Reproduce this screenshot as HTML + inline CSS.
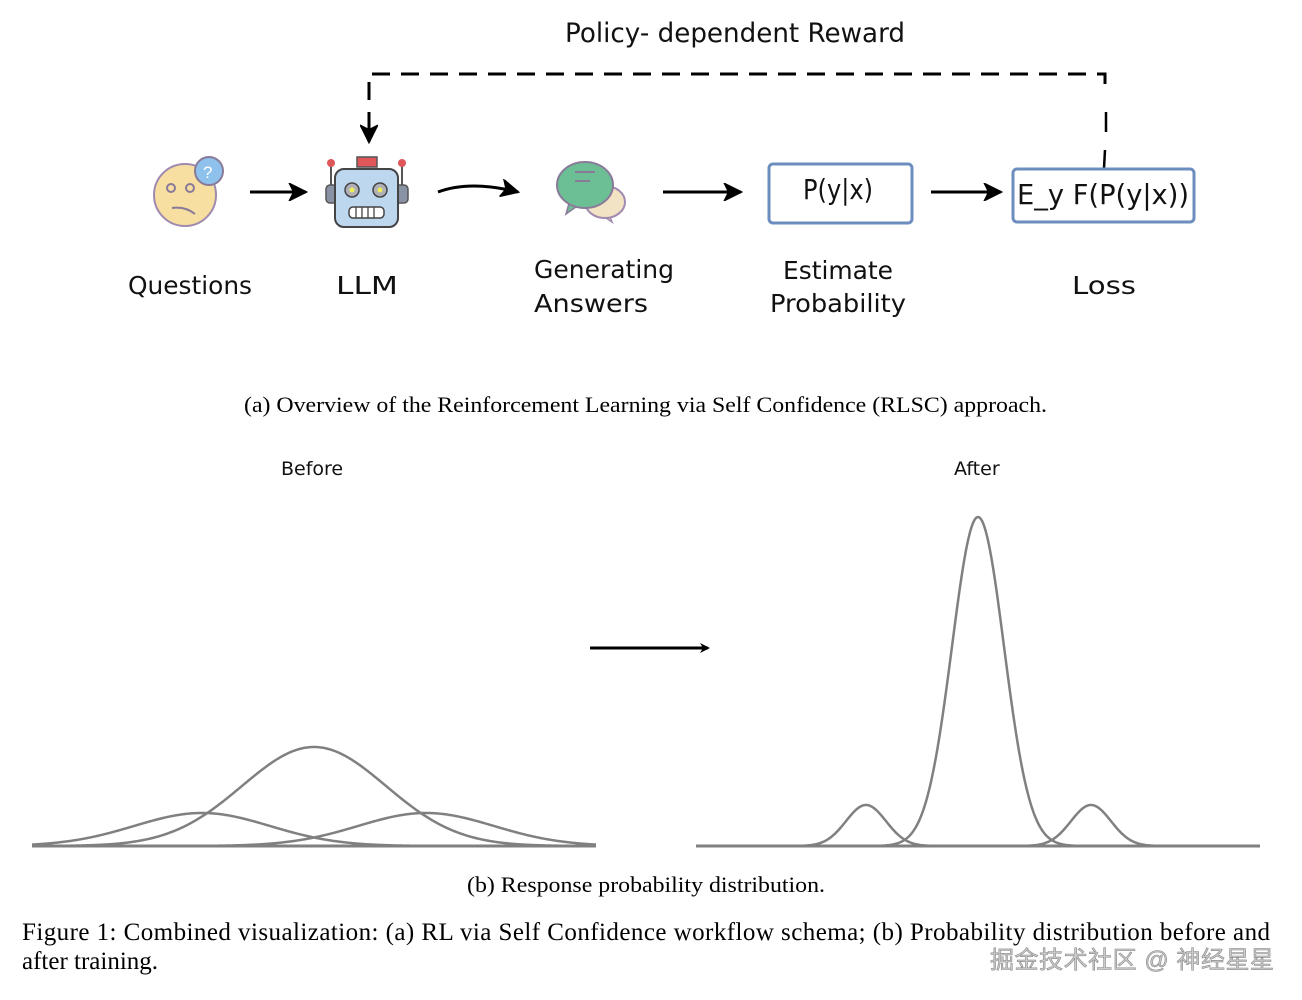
<!DOCTYPE html>
<html><head><meta charset="utf-8"><style>
html,body{margin:0;padding:0;background:#fff;width:1302px;height:1000px;overflow:hidden}
svg{display:block}
.h{font-family:"DejaVu Sans","Liberation Sans",sans-serif;fill:#111}
.s{font-family:"Liberation Serif",serif;fill:#000}
</style></head><body>
<svg id="s" width="1302" height="1000" viewBox="0 0 1302 1000" xmlns="http://www.w3.org/2000/svg">
<defs><marker id="ah" markerWidth="10" markerHeight="10" refX="8" refY="5" orient="auto" markerUnits="userSpaceOnUse"><path d="M0,0 L10,5 L0,10 L3,5 Z" fill="#000"/></marker>
<marker id="ah2" markerWidth="20" markerHeight="18" refX="18" refY="9" orient="auto" markerUnits="userSpaceOnUse"><path d="M2,1 L18,9 L2,17 L6,9 Z" fill="#000" stroke="#000" stroke-width="2"/></marker></defs>

<text class="h" x="565" y="42" font-size="27" textLength="340" lengthAdjust="spacingAndGlyphs">Policy- dependent Reward</text>
<path d="M369,100 L369,74 L1105,74 L1105,95" fill="none" stroke="#000" stroke-width="3" stroke-dasharray="18,11"/>
<path d="M1106,112 L1106,132 M1105,150 L1104,168" stroke="#000" stroke-width="2.5"/>
<path d="M369,112 L369,142" stroke="#000" stroke-width="3" marker-end="url(#ah2)"/>

<!-- question face -->
<circle cx="185" cy="195" r="31" fill="#f6dfa0" stroke="#a08ab0" stroke-width="2"/>
<circle cx="171" cy="188" r="4" fill="none" stroke="#8a7a9a" stroke-width="2"/>
<circle cx="190" cy="188" r="4" fill="none" stroke="#8a7a9a" stroke-width="2"/>
<path d="M172,208 Q185,206 195,214" fill="none" stroke="#8a7a9a" stroke-width="2"/>
<circle cx="209" cy="171" r="14" fill="#8ec1ec" stroke="#8a7a9a" stroke-width="2"/>
<text x="203" y="178" font-size="17" fill="#fff" font-family="Liberation Sans">?</text>

<!-- robot -->
<rect x="357" y="157" width="20" height="10" fill="#e0575a" stroke="#555" stroke-width="1.5"/>
<line x1="331" y1="163" x2="331" y2="186" stroke="#555" stroke-width="2"/>
<line x1="402" y1="163" x2="402" y2="186" stroke="#555" stroke-width="2"/>
<circle cx="331" cy="163" r="4" fill="#e0575a"/><circle cx="402" cy="163" r="4" fill="#e0575a"/>
<rect x="326" y="185" width="82" height="18" rx="4" fill="#8a93a5" stroke="#555" stroke-width="1.5"/>
<rect x="335" y="169" width="63" height="58" rx="9" fill="#bdd7ef" stroke="#444" stroke-width="2"/>
<circle cx="352" cy="190" r="7" fill="#b0b0b8" stroke="#444" stroke-width="1.5"/><circle cx="352" cy="190" r="2.5" fill="#ee5"/>
<circle cx="380" cy="190" r="7" fill="#b0b0b8" stroke="#444" stroke-width="1.5"/><circle cx="380" cy="190" r="2.5" fill="#ee5"/>
<rect x="349" y="207" width="35" height="11" rx="4" fill="#fff" stroke="#444" stroke-width="1.5"/>
<path d="M356,207 V218 M362,207 V218 M368,207 V218 M374,207 V218" stroke="#444" stroke-width="1.3"/>

<!-- chat -->
<path d="M600,214 L612,222 L607,210" fill="#f3e3c5" stroke="#a08ab0" stroke-width="1.5"/>
<ellipse cx="605" cy="202" rx="20" ry="16" fill="#f3e3c5" stroke="#a08ab0" stroke-width="2"/>
<path d="M570,200 L566,214 L580,204" fill="#6cbf95" stroke="#8a7a9a" stroke-width="1.5"/>
<ellipse cx="585" cy="185" rx="28" ry="23" fill="#6cbf95" stroke="#8a7a9a" stroke-width="2"/>
<path d="M575,172 L595,172 M575,181 L590,181" stroke="#8a7a9a" stroke-width="2"/>

<!-- arrows -->
<path d="M250,192 L306,192" stroke="#000" stroke-width="3" marker-end="url(#ah2)"/>
<path d="M438,192 Q470,180 518,192" stroke="#000" stroke-width="3" fill="none" marker-end="url(#ah2)"/>
<path d="M663,192 L741,192" stroke="#000" stroke-width="3" marker-end="url(#ah2)"/>
<path d="M931,192 L1001,192" stroke="#000" stroke-width="3" marker-end="url(#ah2)"/>

<rect x="769" y="164" width="143" height="59" rx="4" fill="none" stroke="#6c8ebf" stroke-width="3"/>
<text class="h" x="803" y="199" font-size="28" textLength="70" lengthAdjust="spacingAndGlyphs">P(y|x)</text>
<rect x="1013" y="169" width="181" height="53" rx="4" fill="none" stroke="#6c8ebf" stroke-width="3"/>
<text class="h" x="1017" y="204" font-size="28" textLength="172" lengthAdjust="spacingAndGlyphs">E_y F(P(y|x))</text>

<text class="h" x="128" y="294" font-size="25" textLength="124" lengthAdjust="spacingAndGlyphs">Questions</text>
<text class="h" x="336" y="294" font-size="25" textLength="62" lengthAdjust="spacingAndGlyphs">LLM</text>
<text class="h" x="534" y="278" font-size="25" textLength="140" lengthAdjust="spacingAndGlyphs">Generating</text>
<text class="h" x="534" y="312" font-size="25" textLength="114" lengthAdjust="spacingAndGlyphs">Answers</text>
<text class="h" x="783" y="279" font-size="25" textLength="110" lengthAdjust="spacingAndGlyphs">Estimate</text>
<text class="h" x="770" y="312" font-size="25" textLength="136" lengthAdjust="spacingAndGlyphs">Probability</text>
<text class="h" x="1072" y="294" font-size="25" textLength="64" lengthAdjust="spacingAndGlyphs">Loss</text>

<text class="s" x="244" y="412" font-size="22" textLength="803" lengthAdjust="spacingAndGlyphs">(a) Overview of the Reinforcement Learning via Self Confidence (RLSC) approach.</text>
<text x="281" y="475" font-size="19" font-family="DejaVu Sans,sans-serif" fill="#111">Before</text>
<text x="954" y="475" font-size="19" font-family="DejaVu Sans,sans-serif" fill="#111">After</text>
<path d="M590,648 L708,648" stroke="#000" stroke-width="3" marker-end="url(#ah)"/>
<line x1="32" y1="846" x2="596" y2="846" stroke="#808080" stroke-width="3"/>
<line x1="696" y1="846" x2="1260" y2="846" stroke="#808080" stroke-width="3"/>
<g id="curves" fill="none" stroke="#808080" stroke-width="2.5"></g>

<text class="s" x="467" y="892" font-size="22" textLength="358" lengthAdjust="spacingAndGlyphs">(b) Response probability distribution.</text>
<text class="s" x="22" y="940" font-size="25" textLength="1248">Figure 1: Combined visualization: (a) RL via Self Confidence workflow schema; (b) Probability distribution before and</text>
<text class="s" x="22" y="969" font-size="25">after training.</text>
<text x="990" y="968" font-size="24" fill="#ccc" stroke="#888" stroke-width="0.6" font-family="Liberation Sans,Noto Sans CJK SC,sans-serif" textLength="284">掘金技术社区 @ 神经星星</text>
</svg>
<script>
var g=document.getElementById('curves');
function c(x0,x1,mu,s,h){var d='';for(var x=x0;x<=x1;x+=1){var y=846-h*Math.exp(-(x-mu)*(x-mu)/(2*s*s));d+=(x==x0?'M':'L')+x+','+y.toFixed(2);}
var p=document.createElementNS('http://www.w3.org/2000/svg','path');p.setAttribute('d',d);g.appendChild(p);}
c(32,596,314,72,99);c(32,596,202,68,33);c(32,596,426,68,33);
c(696,1260,978,26,329);c(696,1260,866,20,41);c(696,1260,1091,20,41);
</script>
</body></html>
